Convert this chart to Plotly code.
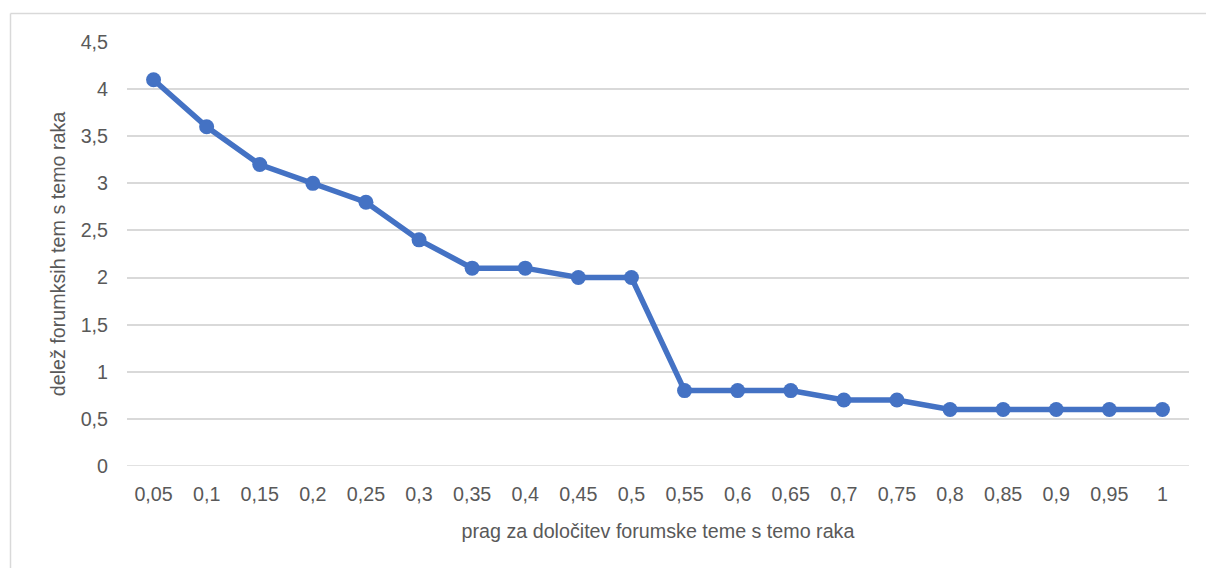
import plotly.graph_objects as go

categories = ["0,05", "0,1", "0,15", "0,2", "0,25", "0,3", "0,35", "0,4", "0,45", "0,5",
              "0,55", "0,6", "0,65", "0,7", "0,75", "0,8", "0,85", "0,9", "0,95", "1"]
values = [4.1, 3.6, 3.2, 3.0, 2.8, 2.4, 2.1, 2.1, 2.0, 2.0,
          0.8, 0.8, 0.8, 0.7, 0.7, 0.6, 0.6, 0.6, 0.6, 0.6]
y_ticks = [0, 0.5, 1, 1.5, 2, 2.5, 3, 3.5, 4, 4.5]
y_tick_labels = ["0", "0,5", "1", "1,5", "2", "2,5", "3", "3,5", "4", "4,5"]

x_title = "prag za določitev forumske teme s temo raka"
y_title = "delež forumksih tem s temo raka"

FONT = "Liberation Sans, Arial, sans-serif"
GREY = "#595959"
BORDER = "#D9D9D9"
FS = 19.7

W, H = 1206, 568
L, R, T, B = 127, 17, 42, 102
pw, ph = W - L - R, H - T - B

fig = go.Figure()
fig.add_trace(go.Scatter(
    x=list(range(len(categories))), y=values, mode="lines+markers",
    line=dict(color="#4472C4", width=5.5),
    marker=dict(color="#4472C4", size=15),
    hoverinfo="skip", showlegend=False,
))

def px2paper_x(px):
    return (px - L) / pw

def px2paper_y(py):
    return (H - B - py) / ph

fig.update_layout(
    width=W, height=H,
    margin=dict(l=L, r=R, t=T, b=B),
    paper_bgcolor="white", plot_bgcolor="white",
    font=dict(family=FONT, color=GREY, size=FS),
    xaxis=dict(
        tickmode="array", tickvals=list(range(len(categories))), ticktext=categories,
        range=[-0.5, len(categories) - 0.5], showgrid=False, zeroline=False,
        showline=False, ticks="", tickfont=dict(size=FS, color=GREY),
        ticklabelstandoff=14,
        title=dict(text=x_title, font=dict(size=FS, color=GREY), standoff=20),
    ),
    yaxis=dict(
        tickmode="array", tickvals=y_ticks, ticktext=y_tick_labels,
        range=[0, 4.5], showgrid=True, gridcolor=BORDER, gridwidth=1.5,
        zeroline=False, showline=False, ticks="",
        ticklabelstandoff=18,
        tickfont=dict(size=FS, color=GREY),
        title=dict(text=y_title, font=dict(size=FS, color=GREY), standoff=9),
    ),
    shapes=[
        # chart-area border (top and left edges; right/bottom fall outside the picture)
        dict(type="line", xref="paper", yref="paper",
             x0=px2paper_x(10.5), x1=px2paper_x(1206), y0=px2paper_y(13.5), y1=px2paper_y(13.5),
             line=dict(color=BORDER, width=1.5), layer="below"),
        dict(type="line", xref="paper", yref="paper",
             x0=px2paper_x(10.5), x1=px2paper_x(10.5), y0=px2paper_y(13.5), y1=px2paper_y(568),
             line=dict(color=BORDER, width=1.5), layer="below"),
        dict(type="line", xref="paper", yref="y", x0=0, x1=1, y0=0, y1=0,
             line=dict(color=BORDER, width=1.5), layer="below"),
    ],
)

fig.write_html("out.html", config={"displayModeBar": False},
               post_script="document.body.style.margin='0';document.body.style.overflow='hidden';")
